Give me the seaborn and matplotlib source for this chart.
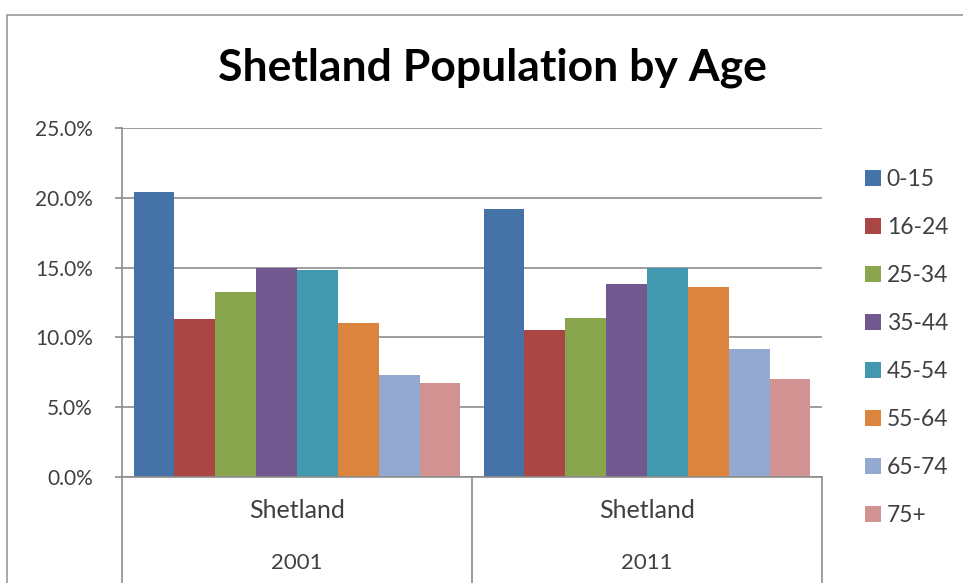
import numpy as np
import pandas as pd
import seaborn as sns
import matplotlib.pyplot as plt
from matplotlib.patches import Rectangle
from matplotlib.ticker import FuncFormatter

# data (share of population, %)
years = ["2001", "2011"]
area = "Shetland"
age_groups = ["0-15", "16-24", "25-34", "35-44", "45-54", "55-64", "65-74", "75+"]
pct_2001 = [20.45, 11.3, 13.25, 15.0, 14.8, 11.05, 7.28, 6.73]
pct_2011 = [19.2, 10.5, 11.4, 13.8, 15.0, 13.6, 9.2, 7.0]

# Excel 2007 default series colours
colors = ["#4572A7", "#AA4643", "#89A54E", "#71588F",
          "#4198AF", "#DB843D", "#93A9CF", "#D19392"]

df = pd.DataFrame({
    "year": np.repeat(years, len(age_groups)),
    "age": age_groups * len(years),
    "pct": pct_2001 + pct_2011,
})

sns.set_theme(style="white")
plt.rcParams["font.family"] = ["Lato", "DejaVu Sans"]
text_col = "#404040"
grid_col = "#8c8c8c"

W, H = 963, 583
fig = plt.figure(figsize=(W / 100, H / 100), dpi=100)
# outer chart frame (cut off on the right and bottom like the screenshot)
fig.patches.append(Rectangle((7 / W, -0.1), 1.2, 1 - 15 / H + 0.1,
                             transform=fig.transFigure, fill=False,
                             edgecolor="#9a9a9a", linewidth=1.2))

ax = fig.add_axes([122 / W, 1 - 477 / H, 700 / W, 349 / H])
sns.barplot(data=df, x="year", y="pct", hue="age", hue_order=age_groups,
            palette=colors, width=0.934, linewidth=0, saturation=1,
            errorbar=None, ax=ax)

ax.set_ylim(0, 25)
ax.set_xlim(-0.5, 1.5)
ax.set_yticks(np.arange(0, 26, 5))
ax.yaxis.set_major_formatter(FuncFormatter(lambda v, _: f"{v:.1f}%"))
ax.yaxis.grid(True, color=grid_col, linewidth=1.2)
ax.set_axisbelow(True)
ax.tick_params(axis="y", left=True, length=5, width=1.2, color=grid_col,
               labelsize=15, labelcolor=text_col, pad=16)
ax.set_xticks([])
ax.set_xlabel("")
ax.set_ylabel("")
for side in ["top", "right"]:
    ax.spines[side].set_visible(False)
for side in ["left", "bottom"]:
    ax.spines[side].set_color(grid_col)
    ax.spines[side].set_linewidth(1.2)

# two-level category axis: area on the first row, year on the second
tr = ax.get_xaxis_transform()
for xb in [-0.5, 0.5, 1.5]:
    ax.plot([xb, xb], [0, -0.32], transform=tr, color=grid_col,
            linewidth=1.2, clip_on=False)
for i, yr in enumerate(years):
    ax.text(i, -0.095, area, transform=tr, ha="center", va="center",
            fontsize=18, color=text_col)
    ax.text(i, -0.245, yr, transform=tr, ha="center", va="center",
            fontsize=16, color=text_col)

fig.text(492 / W, 1 - 68 / H, "Shetland Population by Age", ha="center",
         va="center", fontsize=32, fontweight="bold", color="black")

leg = ax.legend(loc="upper left", bbox_to_anchor=(865 / W, 1 - 169 / H),
                bbox_transform=fig.transFigure, frameon=False, fontsize=16.5,
                handlelength=0.7, handleheight=0.7, handletextpad=0.25,
                labelspacing=1.18, borderpad=0, borderaxespad=0)
for t in leg.get_texts():
    t.set_color(text_col)

fig.savefig("out.png", dpi=100)
